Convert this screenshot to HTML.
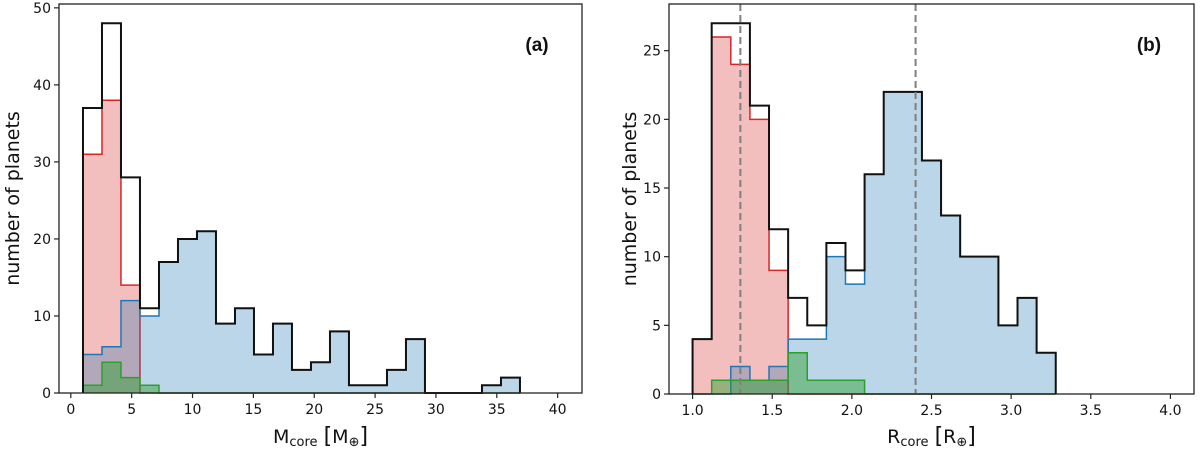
<!DOCTYPE html>
<html><head><meta charset="utf-8">
<style>
html,body{margin:0;padding:0;background:#fff;}
svg{display:block;font-family:"DejaVu Sans","Liberation Sans",sans-serif;}
</style></head>
<body>
<svg id="fig" width="1200" height="453" viewBox="0 0 1200 453"></svg>
<script>
// Panel (a): core mass histogram
const massBinStart = 1.0;
const massBinWidth = 1.561;
const massTotal = [37,48,28,11,17,20,21,9,11,5,9,3,4,8,1,1,3,7,0,0,0,1,2];
const massRed   = [31,38,14,0,0,0,0,0,0,0,0,0,0,0,0,0,0,0,0,0,0,0,0];
const massBlue  = [5,6,12,10,17,20,21,9,11,5,9,3,4,8,1,1,3,7,0,0,0,1,2];
const massGreen = [1,4,2,1,0,0,0,0,0,0,0,0,0,0,0,0,0,0,0,0,0,0,0];
const massXTicks = [0,5,10,15,20,25,30,35,40];
const massYTicks = [0,10,20,30,40,50];

// Panel (b): core radius histogram
const radBinStart = 1.0;
const radBinWidth = 0.12;
const radTotal = [4,27,27,21,12,7,5,11,9,16,22,22,17,13,10,10,5,7,3];
const radRed   = [4,26,24,20,9,0,0,0,0,0,0,0,0,0,0,0,0,0,0];
const radBlue  = [0,0,2,1,2,4,4,10,8,16,22,22,17,13,10,10,5,7,3];
const radGreen = [0,1,1,1,1,3,1,1,1,0,0,0,0,0,0,0,0,0,0];
const radXTicks = [1.0,1.5,2.0,2.5,3.0,3.5,4.0];
const radYTicks = [0,5,10,15,20,25];
const radDashed = [1.3,2.4];

const NS="http://www.w3.org/2000/svg";
const svg=document.getElementById('fig');
function mk(tag,attrs,parent){const e=document.createElementNS(NS,tag);for(const k in attrs)e.setAttribute(k,attrs[k]);(parent||svg).appendChild(e);return e;}

function panel(cfg){
  const g=mk('g',{});
  
  
  const {L,R,T,B,x0,x1,y0,y1}=cfg;
  const sx=v=>L+(v-x0)/(x1-x0)*(R-L);
  const sy=v=>B-(v-y0)/(y1-y0)*(B-T);
  function hist(vals,fill,fop,stroke,sw,name){
    let d='M'+sx(cfg.start)+','+sy(0);
    vals.forEach((v,i)=>{const a=sx(cfg.start+i*cfg.w),b=sx(cfg.start+(i+1)*cfg.w);d+=' L'+a+','+sy(v)+' L'+b+','+sy(v);});
    d+=' L'+sx(cfg.start+vals.length*cfg.w)+','+sy(0);
    const p=mk('path',{d:d,fill:fill,'fill-opacity':fop,stroke:stroke,'stroke-width':sw,'stroke-linejoin':'miter'},g);
    
    
  }
  hist(cfg.red,'#d62728',0.3,'#d62728',1.5,'red-histogram');
  hist(cfg.blue,'#1f77b4',0.3,'#1f77b4',1.5,'blue-histogram');
  hist(cfg.green,'#2ca02c',0.45,'#2ca02c',1.5,'green-histogram');
  hist(cfg.total,'none',0,'#111',2,'total-histogram');
  (cfg.dashed||[]).forEach(v=>{
    const l=mk('line',{x1:sx(v),x2:sx(v),y1:T,y2:B,stroke:'#7f7f7f','stroke-width':2,'stroke-dasharray':'7,4'},g);
    
    
  });
  const fr=mk('rect',{x:L,y:T,width:R-L,height:B-T,fill:'none',stroke:'#222','stroke-width':1.3},g);
  
  
  cfg.xt.forEach(v=>{
    mk('line',{x1:sx(v),x2:sx(v),y1:B,y2:B+5,stroke:'#222','stroke-width':1.2},g);
    const t=mk('text',{x:sx(v),y:B+21,'text-anchor':'middle','font-size':14,fill:'#111'},g);
    t.textContent=cfg.fmt(v);
    
    
  });
  cfg.yt.forEach(v=>{
    mk('line',{x1:L-5,x2:L,y1:sy(v),y2:sy(v),stroke:'#222','stroke-width':1.2},g);
    const t=mk('text',{x:L-8,y:sy(v)+5,'text-anchor':'end','font-size':14,fill:'#111'},g);
    t.textContent=v;
    
    
  });
  const yl=mk('text',{x:0,y:0,'text-anchor':'middle','font-size':19,fill:'#111',transform:'translate('+cfg.ylx+','+((T+B)/2)+') rotate(-90)'},g);
  yl.textContent='number of planets';
  
  
  const xl=mk('text',{x:(L+R)/2,y:443,'text-anchor':'middle','font-size':19,fill:'#111'},g);
  xl.innerHTML=cfg.xlabel;
  
  
  const pl=mk('text',{x:R-45,y:51,'text-anchor':'middle','font-size':19,'font-weight':'bold',fill:'#111','font-family':'Liberation Sans, sans-serif'},g);
  pl.textContent=cfg.label;
  
  
}

panel({name:'panel-a-mass',L:59,R:582,T:4,B:393,x0:-0.97,x1:42,y0:0,y1:50.5,
  start:massBinStart,w:massBinWidth,total:massTotal,red:massRed,blue:massBlue,green:massGreen,
  xt:massXTicks,yt:massYTicks,fmt:v=>String(v),ylx:19,label:'(a)',
  xlabel:'M<tspan font-size="13" dy="3">core</tspan> <tspan font-size="22" dy="-3">[</tspan>M<tspan font-size="13" dy="3">⊕</tspan><tspan font-size="22" dy="-3">]</tspan>'});
panel({name:'panel-b-radius',L:669,R:1194,T:4,B:394,x0:0.852,x1:4.148,y0:0,y1:28.4,
  start:radBinStart,w:radBinWidth,total:radTotal,red:radRed,blue:radBlue,green:radGreen,dashed:radDashed,
  xt:radXTicks,yt:radYTicks,fmt:v=>v.toFixed(1),ylx:636,label:'(b)',
  xlabel:'R<tspan font-size="13" dy="3">core</tspan> <tspan font-size="22" dy="-3">[</tspan>R<tspan font-size="13" dy="3">⊕</tspan><tspan font-size="22" dy="-3">]</tspan>'});
</script>
</body></html>
